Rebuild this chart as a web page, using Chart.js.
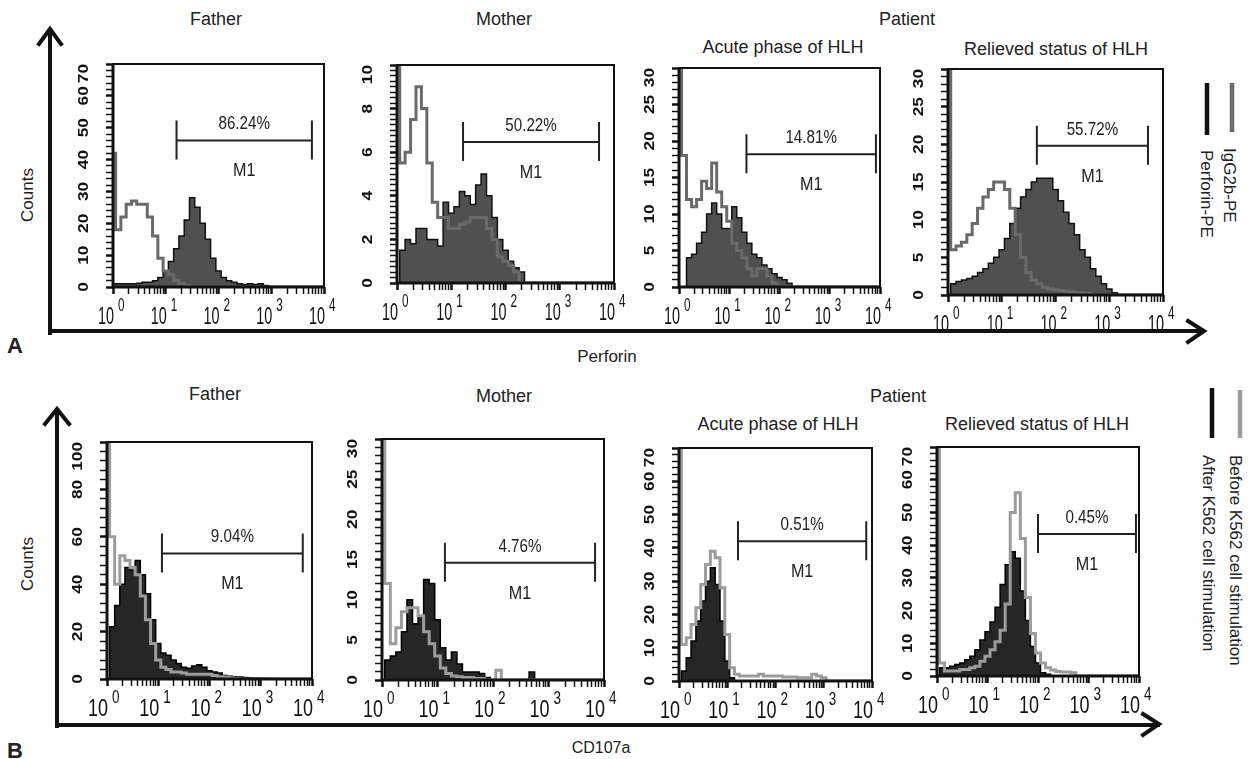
<!DOCTYPE html>
<html>
<head>
<meta charset="utf-8">
<script src="https://cdn.jsdelivr.net/npm/chart.js@4.4.1/dist/chart.umd.min.js"></script>
<style>
    body { margin: 0; width: 1252px; height: 759px; background: #fff; position: relative; overflow: hidden; }
    canvas { position: absolute; }
    svg { position: absolute; left: 0; top: 0; }
    svg text { font-family: "Liberation Sans", Arial, sans-serif; fill: #222; }
</style>
</head>
<body>
<svg width="1252" height="759">
    <g stroke="#111" stroke-width="4" fill="none" stroke-linecap="square">
        <path d="M50 333 V30 M39 44 L50 29 L61 44"/>
        <path d="M50 331 H1203 M1188 321 L1204 331 L1188 342"/>
        <path d="M57 726 V410 M45 424 L57 409 L69 424"/>
        <path d="M57 725 H1158 M1143 714 L1159 724 L1143 735"/>
    </g>
    <g stroke-width="4.5">
        <line x1="1207" y1="83" x2="1207" y2="135" stroke="#111"/>
        <line x1="1232" y1="83" x2="1232" y2="132" stroke="#6a6a6a"/>
        <line x1="1212" y1="388" x2="1212" y2="438" stroke="#111"/>
        <line x1="1240" y1="390" x2="1240" y2="438" stroke="#9c9c9c"/>
    </g>
    <g font-size="18" text-anchor="middle">
        <text x="216" y="25">Father</text>
        <text x="504" y="25">Mother</text>
        <text x="907" y="25">Patient</text>
        <text x="783" y="53">Acute phase of HLH</text>
        <text x="1056" y="55">Relieved status of HLH</text>
        <text x="215" y="400">Father</text>
        <text x="504" y="402">Mother</text>
        <text x="898" y="402">Patient</text>
        <text x="778" y="430">Acute phase of HLH</text>
        <text x="1037" y="430">Relieved status of HLH</text>
    </g>
    <g font-size="17" text-anchor="middle">
        <text x="33" y="195" transform="rotate(-90 33 195)">Counts</text>
        <text x="33" y="564" transform="rotate(-90 33 564)">Counts</text>
        <text x="607" y="362">Perforin</text>
        <text x="601" y="753" font-size="16">CD107a</text>
    </g>
    <g font-size="17">
        <text x="1224" y="148" transform="rotate(90 1224 148)">IgG2b-PE</text>
        <text x="1201" y="150" transform="rotate(90 1201 150)">Perforin-PE</text>
        <text x="1230" y="455" transform="rotate(90 1230 455)">Before K562 cell stimulation</text>
        <text x="1203" y="455" transform="rotate(90 1203 455)">After K562 cell stimulation</text>
    </g>
    <g font-size="22" font-weight="bold">
        <text x="7" y="353">A</text>
        <text x="7" y="758">B</text>
    </g>
</svg>
<script>
// fluorescence channels, 10 per decade
const channels = [1, 1.26, 1.58, 2, 2.51, 3.16, 3.98, 5.01, 6.31, 7.94,
    10, 12.6, 15.8, 20, 25.1, 31.6, 39.8, 50.1, 63.1, 79.4,
    100, 126, 158, 200, 251, 316, 398, 501, 631, 794,
    1000, 1260, 1580, 2000, 2510, 3160, 3980, 5010, 6310, 7940, 10000];
const decades = [1, 10, 100, 1000, 10000];
const decadeExponents = ["0", "1", "2", "3", "4"];

// A: perforin, open = IgG2b-PE isotype, filled = perforin-PE
const isoFather = [42, 18, 22, 26, 27, 26, 26, 22, 16, 9, 5, 4, 2, 1, 0.5];
const perfFather = [1, 1, 1, 1, 1, 1.2, 1.5, 1.5, 2, 3, 5, 8, 12, 16, 21, 28, 25, 20, 15, 9, 5, 3, 2, 1.5, 1, 0.8, 1, 0.8, 1, 0.5];
const isoMother = [10, 5.5, 6, 7.5, 9, 8, 5.5, 3.7, 3, 3, 2.5, 2.5, 2.7, 2.8, 3, 3, 3, 2.5, 2, 1.2, 1, 0.8, 0.5];
const perfMother = [0, 1.5, 2, 1.8, 2.5, 2.5, 2, 2, 1.7, 3.7, 3.2, 3.5, 4.2, 4, 3.6, 4.5, 5, 4, 3, 2, 1.5, 1, 0.7, 0.5];
const isoAcute = [30, 18, 12, 11, 12, 14.5, 13.5, 17, 13, 11, 9, 6, 5, 4, 2.5, 1.5, 2.5, 2.5, 1.5, 0.5];
const perfAcute = [0, 0, 4, 4.5, 6, 7.5, 10, 11.5, 10, 8, 8, 11, 9.5, 7.5, 6, 4.5, 4, 3, 2.5, 1.8, 1.3, 1, 0.5];
const isoRelieved = [30, 6, 6.5, 7, 8, 9.5, 11.5, 13, 14, 15, 15, 14, 11.5, 8, 5, 3, 2, 1.5, 1, 0.8, 0.7, 0.6, 0.5, 0.4, 0.3, 0.3, 0.2];
const perfRelieved = [0, 1.5, 1.8, 2, 2.2, 2.5, 3, 3.5, 4.2, 5, 6, 7.5, 9.5, 11.5, 13, 14, 15, 15.5, 15.5, 15.5, 14, 12.5, 11, 9.5, 8, 6, 5, 3.5, 2.5, 1.5, 0.8, 0.3];

// B: CD107a, open = before K562, filled = after K562
const beforeFather = [100, 60, 40, 52, 50, 47, 44, 35, 25, 15, 8, 5, 4, 3, 3, 2.5, 2, 2, 2, 2, 2, 1.5, 1, 0.8, 0.5, 0.3];
const afterFather = [0, 22, 31, 40, 47, 46, 50, 44, 36, 25, 15, 11, 10, 8, 6.5, 5, 4.5, 5.5, 6, 5, 3.5, 3, 2.5, 1.5, 1.2, 1, 0.8, 0.6, 0.5, 0.4, 0.3, 0.3, 0.2, 0.2];
const beforeMother = [30, 12, 4.5, 6.5, 8.5, 9, 9, 8, 6, 4.5, 3, 1.5, 0.8, 0.5, 0.4, 0.3, 0.3, 0.2, 0.2, 0, 0, 1.2];
const afterMother = [0, 2.5, 3, 3.5, 6, 10, 7, 8, 12.5, 12, 7.5, 4, 2.5, 3.5, 2, 1, 1, 1, 0.8, 0.3, 0, 0, 0, 0, 0, 0, 0, 1];
const beforeAcute = [70, 11, 13, 17, 22, 29, 35, 39, 37, 28, 14, 4, 2, 1.5, 1.5, 1.5, 1.5, 2, 1.5, 1.5, 1.5, 1.5, 1.2, 1.2, 1.2, 1, 1, 1, 2, 1.5, 1];
const afterAcute = [0, 3, 7, 12, 18, 24, 30, 34, 29, 18, 6, 1];
const beforeRelieved = [70, 4, 1.5, 1.5, 1.5, 2, 2, 2.5, 3, 4.5, 6, 8, 10.5, 14, 22, 50, 56, 42, 24, 13, 7, 4, 2.5, 1.8, 1.4, 1.2, 1.2, 1];
const afterRelieved = [0, 2.5, 2.5, 3, 3.5, 4, 5, 6, 8, 11, 13.5, 16.5, 21, 28, 34, 38, 36, 26, 17, 9, 4, 1, 0.5];

// count axis labels
const countsA1 = [0, 10, 20, 30, 40, 50, 60, 70];
const countsA2 = [0, 2, 4, 6, 8, 10];
const countsA3 = [0, 5, 10, 15, 20, 25, 30];
const countsA4 = [0, 5, 10, 15, 20, 25, 30];
const countsB1 = [0, 20, 40, 60, 80, 100];
const countsB2 = [0, 5, 10, 15, 20, 25, 30];
const countsB3 = [0, 10, 20, 30, 40, 50, 60, 70];
const countsB4 = [0, 10, 20, 30, 40, 50, 60, 70];

// M1 gates
const gateFrom = [16, 16.5, 22, 45, 11.8, 13.6, 16.7, 100];
const gateTo = [5900, 5300, 8300, 5250, 6600, 6900, 7600, 8700];
const gateLevel = [46, 6.47, 18.2, 19.8, 53, 14.6, 42, 43.4];
const gatePercent = ["86.24%", "50.22%", "14.81%", "55.72%", "9.04%", "4.76%", "0.51%", "0.45%"];

const rowStyles = {
    A: { open: "#6a6a6a", fill: "#505050", edge: "#111", tenScale: 0.6, expScale: 0.65 },
    B: { open: "#9c9c9c", fill: "#262626", edge: "#000", tenScale: 0.75, expScale: 0.75 },
};

// plot boxes in page pixels: left, top, right, bottom
const panels = [
    { row: "A", box: [113, 64, 324, 287], labels: countsA1, minor: 2, open: isoFather, filled: perfFather },
    { row: "A", box: [397, 65, 614, 283], labels: countsA2, minor: 0.25, open: isoMother, filled: perfMother },
    { row: "A", box: [679, 68, 880, 287], labels: countsA3, minor: 1, open: isoAcute, filled: perfAcute },
    { row: "A", box: [948, 69, 1163, 295], labels: countsA4, minor: 1, open: isoRelieved, filled: perfRelieved },
    { row: "B", box: [107, 442, 312, 679], labels: countsB1, minor: 4, open: beforeFather, filled: afterFather },
    { row: "B", box: [382, 439, 604, 680], labels: countsB2, minor: 1, open: beforeMother, filled: afterMother },
    { row: "B", box: [679, 448, 872, 681], labels: countsB3, minor: 2, open: beforeAcute, filled: afterAcute },
    { row: "B", box: [937, 447, 1139, 676], labels: countsB4, minor: 2, open: beforeRelieved, filled: afterRelieved },
];

const PAD_L = 50, PAD_T = 25, PAD_R = 20, PAD_B = 45;
const FONT = "'Liberation Sans', Arial, sans-serif";

function toPoints(values) {
    return channels.map((c, k) => ({ x: c, y: values[k] ?? 0 }));
}

// text drawn narrower (or wider) than the font, like the scanned labels
function squeezedText(ctx, text, x, y, font, sx, align) {
    ctx.save();
    ctx.translate(x, y);
    ctx.scale(sx, 1);
    ctx.font = font;
    ctx.textAlign = align;
    ctx.textBaseline = "alphabetic";
    ctx.fillText(text, 0, 0);
    ctx.restore();
}

function decor(p, i) {
    const style = rowStyles[p.row];
    return {
        id: "decor" + i,
        afterDraw(chart) {
            const { ctx, chartArea: a, scales: { x, y } } = chart;
            ctx.save();
            ctx.strokeStyle = "#111";
            ctx.fillStyle = "#111";
            ctx.lineWidth = 2;
            ctx.strokeRect(a.left, a.top, a.right - a.left, a.bottom - a.top);
            ctx.lineWidth = 3;
            ctx.beginPath();
            ctx.moveTo(a.left, a.top);
            ctx.lineTo(a.left, a.bottom);
            ctx.lineTo(a.right, a.bottom);
            ctx.stroke();

            // rotated count labels, the top one kept inside the frame
            const last = p.labels.length - 1;
            p.labels.forEach((v, k) => {
                ctx.save();
                ctx.translate(a.left - 29, y.getPixelForValue(v));
                ctx.rotate(-Math.PI / 2);
                ctx.scale(1.15, 1);
                ctx.font = "bold 15px " + FONT;
                ctx.textAlign = k === last ? "right" : "center";
                ctx.textBaseline = "middle";
                ctx.fillText(String(v), 0, 0);
                ctx.restore();
            });

            // 10^n labels
            decades.forEach((v, k) => {
                const px = x.getPixelForValue(v);
                squeezedText(ctx, "10", px + 1, a.bottom + 37, "24px " + FONT, style.tenScale, "right");
                squeezedText(ctx, decadeExponents[k], px + 5, a.bottom + 24, "18px " + FONT, style.expScale, "left");
            });

            // M1 gate
            const gx1 = x.getPixelForValue(gateFrom[i]);
            const gx2 = x.getPixelForValue(gateTo[i]);
            const gy = y.getPixelForValue(gateLevel[i]);
            ctx.strokeStyle = "#222";
            ctx.lineWidth = 2;
            ctx.beginPath();
            ctx.moveTo(gx1, gy); ctx.lineTo(gx2, gy);
            ctx.moveTo(gx1, gy - 20); ctx.lineTo(gx1, gy + 19);
            ctx.moveTo(gx2, gy - 20); ctx.lineTo(gx2, gy + 19);
            ctx.stroke();
            ctx.fillStyle = "#222";
            const mid = (gx1 + gx2) / 2;
            squeezedText(ctx, gatePercent[i], mid, gy - 11, "19px " + FONT, 0.8, "center");
            squeezedText(ctx, "M1", mid, gy + 36, "19px " + FONT, 0.85, "center");
            ctx.restore();
        },
    };
}

function tickWidth(ctx) {
    return ctx.tick && ctx.tick.major ? 2.5 : 1.5;
}

panels.forEach((p, i) => {
    const [l, t, r, b] = p.box;
    const cv = document.createElement("canvas");
    cv.width = r - l + PAD_L + PAD_R;
    cv.height = b - t + PAD_T + PAD_B;
    cv.style.left = (l - PAD_L) + "px";
    cv.style.top = (t - PAD_T) + "px";
    document.body.appendChild(cv);
    const style = rowStyles[p.row];
    const yMax = p.labels[p.labels.length - 1];

    new Chart(cv, {
        type: "line",
        data: {
            datasets: [
                {
                    data: toPoints(p.open),
                    borderColor: style.open,
                    borderWidth: 3,
                    fill: false,
                    stepped: "middle",
                    pointRadius: 0,
                    order: 0,
                },
                {
                    data: toPoints(p.filled),
                    borderColor: style.edge,
                    backgroundColor: style.fill,
                    borderWidth: 1.5,
                    fill: "origin",
                    stepped: "middle",
                    pointRadius: 0,
                    order: 1,
                },
            ],
        },
        options: {
            responsive: false,
            animation: false,
            events: [],
            layout: { padding: { left: 0, top: PAD_T, right: PAD_R, bottom: 0 } },
            plugins: { legend: { display: false }, tooltip: { enabled: false } },
            scales: {
                x: {
                    type: "logarithmic",
                    min: 1,
                    max: 10000,
                    afterFit: s => { s.height = PAD_B; },
                    afterBuildTicks: s => {
                        const out = [];
                        decades.slice(0, 4).forEach(d => {
                            for (let k = 1; k < 10; k++) out.push({ value: d * k, major: k === 1 });
                        });
                        out.push({ value: 10000, major: true });
                        s.ticks = out;
                    },
                    grid: { drawOnChartArea: false, tickLength: 7, color: "#111", tickWidth: tickWidth },
                    border: { display: false },
                    ticks: { display: false },
                },
                y: {
                    min: 0,
                    max: yMax,
                    afterFit: s => { s.width = PAD_L; },
                    afterBuildTicks: s => {
                        const out = [];
                        for (let v = 0; v <= yMax + 1e-9; v += p.minor) {
                            const val = +v.toFixed(3);
                            out.push({ value: val, major: p.labels.includes(val) });
                        }
                        s.ticks = out;
                    },
                    grid: { drawOnChartArea: false, tickLength: 7, color: "#111", tickWidth: tickWidth },
                    border: { display: false },
                    ticks: { display: false },
                },
            },
        },
        plugins: [decor(p, i)],
    });
});
</script>
</body>
</html>
